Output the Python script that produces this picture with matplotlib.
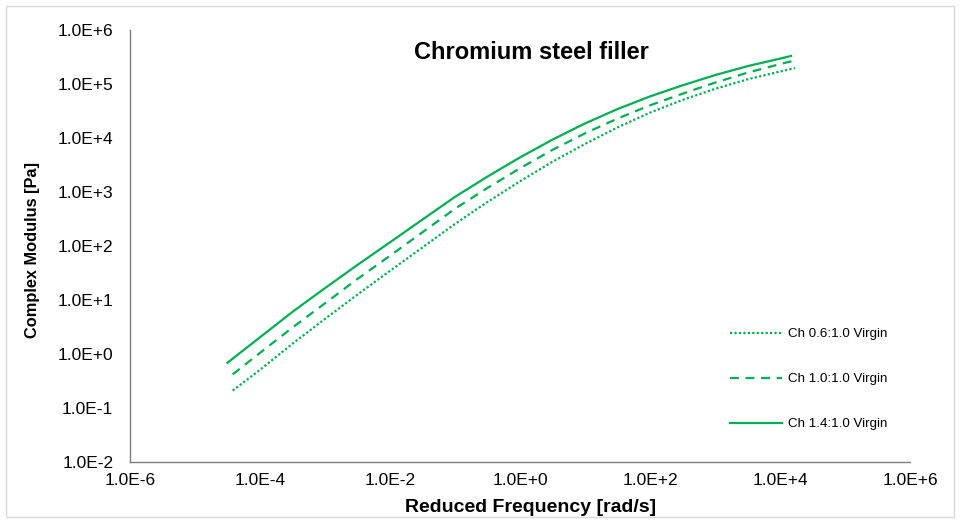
import matplotlib
matplotlib.use("Agg")
import matplotlib.pyplot as plt
from matplotlib.patches import Rectangle
from matplotlib.ticker import FixedLocator, FixedFormatter

plt.rcParams['font.family'] = ['Liberation Sans', 'DejaVu Sans']

### Data: complex modulus master curves
#######################################

freq_14 = [3.16e-5, 1e-4, 3.16e-4, 1e-3, 3.16e-3, 1e-2, 3.16e-2, 1e-1, 3.16e-1, 1e0,
           3.16e0, 1e1, 3.16e1, 1e2, 3.16e2, 1e3, 3.16e3, 1e4, 1.48e4]
mod_14 = [0.69, 2.04, 6.03, 16.6, 44.7, 117, 309, 813, 1930, 4370,
          9330, 18600, 34300, 58900, 94400, 146000, 214000, 295000, 331000]

freq_10 = [3.8e-5, 1e-4, 3.16e-4, 1e-3, 3.16e-3, 1e-2, 3.16e-2, 1e-1, 3.16e-1, 1e0,
           3.16e0, 1e1, 3.16e1, 1e2, 3.16e2, 1e3, 3.16e3, 1e4, 1.55e4]
mod_10 = [0.42, 1.05, 3.09, 8.7, 24.5, 66, 180, 490, 1190, 2750,
          6030, 12200, 22900, 40300, 66100, 106000, 162000, 234000, 266000]

freq_06 = [3.8e-5, 1e-4, 3.16e-4, 1e-3, 3.16e-3, 1e-2, 3.16e-2, 1e-1, 3.16e-1, 1e0,
           3.16e0, 1e1, 3.16e1, 1e2, 3.16e2, 1e3, 3.16e3, 1e4, 1.7e4]
mod_06 = [0.21, 0.51, 1.55, 4.47, 12.6, 34.7, 94, 257, 653, 1580,
          3630, 7760, 15700, 29500, 50700, 81300, 122000, 170000, 197000]

labels = ['Ch 0.6:1.0 Virgin', 'Ch 1.0:1.0 Virgin', 'Ch 1.4:1.0 Virgin']

x_ticks = [1e-6, 1e-4, 1e-2, 1e0, 1e2, 1e4, 1e6]
x_ticklabels = ['1.0E-6', '1.0E-4', '1.0E-2', '1.0E+0', '1.0E+2', '1.0E+4', '1.0E+6']
y_ticks = [1e-2, 1e-1, 1e0, 1e1, 1e2, 1e3, 1e4, 1e5, 1e6]
y_ticklabels = ['1.0E-2', '1.0E-1', '1.0E+0', '1.0E+1', '1.0E+2', '1.0E+3',
                '1.0E+4', '1.0E+5', '1.0E+6']

### Plot
########

green = '#00B050'

fig = plt.figure(figsize=(9.6, 5.23), dpi=100)
ax = fig.add_axes([130/960, 61/523, 780/960, 432/523])

ax.plot(freq_06, mod_06, color=green, lw=1.6, linestyle=(0, (1, 1)), label=labels[0])
ax.plot(freq_10, mod_10, color=green, lw=1.6, linestyle=(0, (4, 3)), label=labels[1])
ax.plot(freq_14, mod_14, color=green, lw=1.6, linestyle='-', label=labels[2])

ax.set_xscale('log')
ax.set_yscale('log')
ax.set_xlim(1e-6, 1e6)
ax.set_ylim(1e-2, 1e6)
ax.xaxis.set_major_locator(FixedLocator(x_ticks))
ax.xaxis.set_major_formatter(FixedFormatter(x_ticklabels))
ax.xaxis.set_minor_locator(FixedLocator([]))
ax.yaxis.set_major_locator(FixedLocator(y_ticks))
ax.yaxis.set_major_formatter(FixedFormatter(y_ticklabels))
ax.yaxis.set_minor_locator(FixedLocator([]))
ax.tick_params(length=0, labelsize=12.5, colors='black')
ax.tick_params(axis='x', pad=8)
ax.tick_params(axis='y', pad=12)

for side in ['top', 'right']:
    ax.spines[side].set_visible(False)
for side in ['left', 'bottom']:
    ax.spines[side].set_color('#7f7f7f')
    ax.spines[side].set_linewidth(1.0)

ax.set_xlabel('Reduced Frequency [rad/s]', fontsize=14, fontweight='bold')
ax.xaxis.set_label_coords(0.514, -0.086)
ax.set_ylabel('Complex Modulus [Pa]', fontsize=11.8, fontweight='bold')
ax.yaxis.set_label_coords(-0.115, 0.491)
ax.text(0.515, 0.949, 'Chromium steel filler', transform=ax.transAxes,
        ha='center', va='center', fontsize=17, fontweight='bold')

ax.legend(loc='upper left', bbox_to_anchor=(0.769, 0.31), frameon=False,
          fontsize=9.6, handlelength=3.95, labelspacing=2.45, handletextpad=0.45,
          borderaxespad=0, borderpad=0)

# thin border around the chart area
fig.patches.append(Rectangle((6/960, 6/523), 948/960, 511/523, transform=fig.transFigure,
                             fill=False, edgecolor='#d9d9d9', lw=1.0))

fig.savefig('out.png', dpi=100)
